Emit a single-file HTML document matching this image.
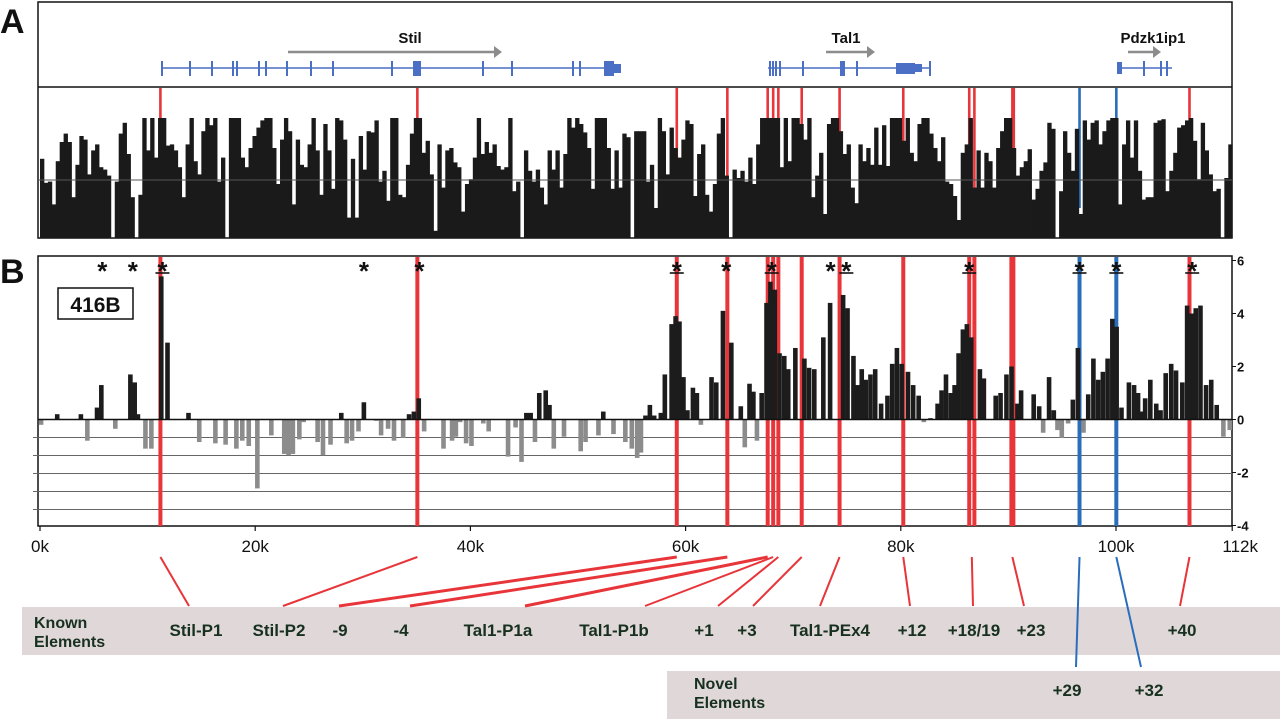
<!DOCTYPE html>
<html><head><meta charset="utf-8"><style>
html,body{margin:0;padding:0;background:#fff;}
svg{display:block;font-family:"Liberation Sans",Arial,sans-serif;}
</style></head><body>
<svg id="fig" width="1280" height="719" viewBox="0 0 1280 719" xmlns="http://www.w3.org/2000/svg">
<g id="bg"></g>
</svg>
<script>
// ---------- data ----------
const tickVals=[0,20,40,60,80,100,110.8];
const tickLabels=['0k','20k','40k','60k','80k','100k','112k'];
const yTickVals=[6,4,2,0,-2,-4];
const yTickLabels=['6','4','2','0','-2','-4'];
// Panel A conservation profile (0-100, 100 = saturated)
const aVals=[66,46,47,28,64,80,87,80,34,61,85,82,53,73,78,59,57,52,0,47,87,96,70,34,0,36,100,73,100,67,100,100,77,78,73,59,34,78,100,64,53,89,100,94,100,47,67,0,100,100,100,67,59,75,85,92,98,100,100,75,45,82,100,89,28,82,61,59,78,100,73,36,95,73,41,100,98,82,17,66,17,85,57,89,88,98,47,56,31,100,100,36,34,61,87,100,100,71,81,53,6,78,42,73,75,63,59,22,45,49,67,100,70,80,71,78,60,57,59,100,39,47,0,73,56,47,57,42,28,73,57,73,42,70,100,92,100,95,88,75,41,100,100,100,75,41,73,42,87,84,0,89,89,89,
47,61,25,100,89,53,92,75,67,82,98,95,35,70,78,36,22,45,87,100,52,0,57,50,56,47,67,45,78,100,100,100,100,100,59,100,64,100,100,95,82,100,34,52,71,20,95,100,100,89,70,78,42,29,78,64,75,61,92,61,94,60,100,100,100,81,100,71,64,95,100,100,87,75,64,84,47,45,35,15,71,78,100,42,73,42,71,64,42,75,89,100,100,75,52,59,64,74,32,41,56,63,96,91,0,39,89,71,56,91,20,98,82,96,98,78,89,98,100,100,28,78,98,67,98,56,32,34,34,96,98,99,39,56,71,92,94,98,100,81,49,96,73,53,39,41,0,50,78];
// Panel B DNase (416B) bar positions (kb) and values
const bPos=[0.1,1.6,3.8,4.4,5.3,5.7,7.0,8.4,8.8,9.1,9.8,10.35,11.27,11.85,13.8,14.8,16.3,17.25,18.25,18.8,19.4,20.2,21.5,22.7,23.1,23.5,24.1,24.5,25.8,26.3,27.0,28.0,28.5,29.0,29.6,30.1,31.25,31.7,32.35,32.9,33.75,34.3,34.75,35.2,35.7,37.5,38.3,38.65,39.05,39.6,40.1,41.2,41.7,43.5,44.2,44.75,45.2,45.6,46.0,46.4,47.0,47.35,47.75,48.7,50.25,50.7,51.9,52.35,53.3,54.4,55.0,55.5,55.85,56.27,56.68,57.08,57.7,58.07,58.7,59.07,59.43,59.8,60.17,60.68,61.05,61.42,62.41,62.85,63.47,64.25,65.13,65.5,65.94,66.3,66.63,67.07,67.52,67.88,68.29,68.73,69.17,69.54,70.2,71.04,71.48,71.96,72.8,73.43,74.64,75.05,75.6,76.0,76.37,76.74,77.18,77.62,78.17,78.76,79.2,79.64,80.08,80.67,81.15,81.66,82.14,82.76,83.42,83.79,84.2,84.64,85.0,85.37,85.77,86.14,86.55,87.35,87.72,88.82,89.27,89.82,90.29,90.84,91.18,92.35,92.86,93.23,93.78,94.22,94.56,94.96,95.55,95.99,96.46,96.98,97.42,97.9,98.34,98.78,99.22,99.66,100.06,100.51,101.2,101.68,102.05,102.35,102.71,103.19,103.74,104.14,104.62,105.13,105.58,106.16,106.61,107.01,107.41,107.85,108.37,108.85,109.36,109.98,110.57];
const bVal=[-0.2,0.2,0.2,-0.8,0.45,1.3,-0.35,1.7,1.4,0.2,-1.1,-1.1,5.4,2.9,0.25,-0.85,-0.9,-0.95,-1.1,-0.8,-1.0,-2.6,-0.6,-1.3,-1.35,-1.3,-0.75,-0.1,-0.85,-1.35,-0.95,0.25,-0.9,-0.8,-0.45,0.65,-0.05,-0.6,-0.35,-0.8,-0.7,0.2,0.3,0.8,-0.45,-1.1,-0.8,-0.65,-0.1,-0.9,-1.0,-0.15,-0.45,-1.4,-0.3,-1.6,0.25,0.25,-0.85,1.0,1.1,0.55,-1.1,-0.65,-1.2,-0.85,-0.6,0.3,-0.55,-0.85,-1.1,-1.45,-1.25,0.15,0.55,0.15,0.25,1.7,3.6,3.9,3.7,1.6,0.35,1.2,1.0,-0.2,1.6,1.4,4.1,2.9,0.5,-1.05,1.35,1.05,-0.8,1.0,4.4,5.2,4.9,2.5,2.4,1.9,2.7,2.3,1.95,1.9,3.1,4.4,4.7,4.2,2.4,1.3,1.9,1.5,1.7,1.9,0.6,0.9,2.1,2.7,2.1,1.8,1.3,0.9,-0.1,0.05,0.6,1.1,1.7,1.0,1.3,2.5,3.4,3.6,3.1,1.9,1.55,0.9,1.0,1.7,2.0,0.6,1.1,0.95,0.5,-0.5,1.6,0.35,-0.4,-0.7,-0.15,0.75,2.7,-0.5,0.95,2.3,1.5,1.8,2.3,3.8,3.5,0.45,1.4,1.3,1.0,0.3,0.8,1.5,0.6,0.35,1.75,2.1,1.85,1.4,4.3,4.0,4.2,4.3,1.3,1.5,0.55,-0.65,-0.4];
// regulatory element highlight lines (kb) and colours
const hlPos=[11.19,35.07,59.18,63.88,67.63,68.14,68.62,70.79,74.31,80.23,86.36,86.84,90.37,96.61,100.03,106.83];
const hlType=['k','k','k','k','k','k','k','k','k','k','k','k','kw','n','n','k'];
// asterisks (kb) and whether underlined
const starPos=[5.79,8.62,11.38,30.11,35.26,59.18,63.77,68.0,73.47,74.94,86.36,96.61,100.03,107.08];
const starUl=[0,0,1,0,0,1,0,1,0,1,1,1,1,1];
// element labels
const elemNames=['Stil-P1','Stil-P2','-9','-4','Tal1-P1a','Tal1-P1b','+1','+3','Tal1-PEx4','+12','+18/19','+23','+40','+29','+32'];
const elemKb=[11.19,35.07,59.18,63.88,67.63,68.14,68.62,70.79,74.31,80.23,86.6,90.37,106.83,96.61,100.03];
const elemLabelX=[196,279,340,401,498,614,704,747,830,912,974,1031,1182,1067,1149];
const elemRow=[0,0,0,0,0,0,0,0,0,0,0,0,0,1,1];
const elemLineEndX=[189,283,339,410,525,645,718,753,820,910,973,1024,1180,1076,1141];

// ---------- scales ----------
const NS='http://www.w3.org/2000/svg';
const svg=document.getElementById('fig');
function xS(kb){return 40+kb*10.76;}
function yB(v){return 419.5-v*26.5;}
function yA(p){return 238-p*1.2;}
function mk(tag,attrs,parent){const e=document.createElementNS(NS,tag);for(const k in attrs)e.setAttribute(k,attrs[k]);(parent||svg).appendChild(e);return e;}
const RED='#e8353a',BLUE='#2a6ebb';

// ---------- Panel A ----------
const gA=mk('g',{});


mk('rect',{x:38,y:2,width:1194,height:236,fill:'#fff',stroke:'#111','stroke-width':1.5},gA);
mk('line',{x1:38,y1:87,x2:1232,y2:87,stroke:'#111','stroke-width':1.5},gA);
const letA=mk('text',{x:0,y:33,'font-size':34,'font-weight':'bold',fill:'#111'},gA);letA.textContent='A';


// highlight lines in A (behind bars)
hlPos.forEach((kb,i)=>{
  const l=mk('rect',{x:xS(kb)-1.3,y:88,width:hlType[i]==='kw'?4:2.6,height:120,fill:hlType[i]==='n'?BLUE:RED},gA);
  
  
});
const aStep=110.8/aVals.length;
aVals.forEach((p,i)=>{
  const x0=xS(i*aStep),x1=xS((i+1)*aStep);
  const r=mk('rect',{x:x0,y:yA(p),width:(x1-x0)+0.4,height:238-yA(p),fill:'#1a1a1a'},gA);
  
  
});
mk('line',{x1:38,y1:180,x2:1232,y2:180,stroke:'#555','stroke-width':1},gA);

// gene track
function gene(name,x1,x2,ticks,boxes,arrow,labelX){
  const g=mk('g',{},gA);
  
  
  mk('line',{x1:x1,y1:68,x2:x2,y2:68,stroke:'#4a6fc4','stroke-width':1.6},g);
  ticks.forEach(t=>mk('rect',{x:t-1,y:61,width:2,height:15,fill:'#4a6fc4'},g));
  boxes.forEach(b=>mk('rect',{x:b[0],y:b[2]||61,width:b[1]-b[0],height:b[3]||15,fill:'#4a6fc4'},g));
  mk('line',{x1:arrow[0],y1:52,x2:arrow[1]-7,y2:52,stroke:'#8c8c8c','stroke-width':2.5},g);
  mk('polygon',{points:(arrow[1]-8)+',46 '+arrow[1]+',52 '+(arrow[1]-8)+',58',fill:'#8c8c8c'},g);
  const t=mk('text',{x:labelX,y:43,'font-size':15,'font-weight':'bold','text-anchor':'middle',fill:'#111'},g);t.textContent=name;
}
gene('Stil',162,620,[162,190,212,233,237,259,266,287,311,333,392,483,512,573,580],[[413,421],[604,614],[614,621,64,9]],[288,502],410);
gene('Tal1',768,931,[770,773,776,780,803,857,930],[[840,845],[896,915,63,11],[915,922,64,8]],[826,875],846);
gene('Pdzk1ip1',1117,1172,[1144,1161,1167],[[1117,1122,62,12]],[1128,1161],1153);

// ---------- Panel B ----------
const gB=mk('g',{});


mk('rect',{x:38,y:256,width:1194,height:270,fill:'#fff',stroke:'#111','stroke-width':1.5},gB);
const letB=mk('text',{x:0,y:283,'font-size':34,'font-weight':'bold',fill:'#111'},gB);letB.textContent='B';


for(let k=1;k<=5;k++){
  const gl=mk('line',{x1:33,y1:419.5+k*18,x2:1232,y2:419.5+k*18,stroke:'#666','stroke-width':1},gB);
  
  
}
hlPos.forEach((kb,i)=>{
  const w=hlType[i]==='kw'?6:4;
  const l=mk('rect',{x:xS(kb)-w/2,y:257,width:w,height:269,fill:hlType[i]==='n'?BLUE:RED},gB);
  
  
});
bPos.forEach((kb,i)=>{
  const v=bVal[i];
  const y0=yB(Math.max(v,0)),y1=yB(Math.min(v,0));
  const r=mk('rect',{x:xS(kb)-2.3,y:y0,width:4.6,height:Math.max(y1-y0,0.5),fill:v>=0?'#1c1c1c':'#8c8c8c'},gB);
  
  
});
mk('line',{x1:38,y1:419.5,x2:1232,y2:419.5,stroke:'#111','stroke-width':1.5},gB);
// asterisks
starPos.forEach((kb,i)=>{
  const t=mk('text',{x:xS(kb),y:280,'font-size':26,'font-weight':'bold','text-anchor':'middle',fill:'#111'},gB);t.textContent='*';
  
  
  if(starUl[i]){const u=mk('line',{x1:xS(kb)-7,y1:273,x2:xS(kb)+7,y2:273,stroke:'#111','stroke-width':1.6},gB);}
});
// 416B box
const cb=mk('g',{},gB);


mk('rect',{x:58,y:288,width:75,height:31,fill:'#fff',stroke:'#111','stroke-width':1.5},cb);
const cbt=mk('text',{x:95.5,y:312,'font-size':21,'font-weight':'bold','text-anchor':'middle',fill:'#111'},cb);cbt.textContent='416B';
// x ticks
tickVals.forEach((kb,i)=>{
  mk('line',{x1:xS(kb),y1:526,x2:xS(kb),y2:531,stroke:'#111','stroke-width':1.2},gB);
  const t=mk('text',{x:xS(kb)+(i===tickVals.length-1?8:0),y:552,'font-size':17,'text-anchor':'middle',fill:'#111'},gB);t.textContent=tickLabels[i];
  
  
});
// right y ticks
yTickVals.forEach((v,i)=>{
  mk('line',{x1:1232,y1:yB(v),x2:1236,y2:yB(v),stroke:'#111','stroke-width':1},gB);
  const t=mk('text',{x:1237,y:yB(v)+5,'font-size':13,'font-weight':'bold',fill:'#111'},gB);t.textContent=yTickLabels[i];
  
  
});

// ---------- element bands ----------
const gE=mk('g',{});


const kb1=mk('rect',{x:22,y:607,width:1258,height:48,fill:'#e0d8d8'},gE);


const kb2=mk('rect',{x:667,y:671,width:613,height:48,fill:'#e0d8d8'},gE);


function txt(s,x,y,size,anchor,name){const t=mk('text',{x:x,y:y,'font-size':size,'font-weight':'bold','text-anchor':anchor,fill:'#17301f'},gE);t.textContent=s;return t;}
txt('Known',34,628,16,'start','known-title');
txt('Elements',34,647,16,'start','known-title');
txt('Novel',694,689,16,'start','novel-title');
txt('Elements',694,708,16,'start','novel-title');
elemNames.forEach((n,i)=>{
  const row=elemRow[i];
  const yEnd=row?667:606;
  const l=mk('line',{x1:xS(elemKb[i]),y1:557,x2:elemLineEndX[i],y2:yEnd,stroke:row?BLUE:RED,'stroke-width':(i>=2&&i<=4)?3:2},gE);
  
  
  const t=txt(n,elemLabelX[i],row?696:636,17,'middle','element-label');
});
</script>
</body></html>
